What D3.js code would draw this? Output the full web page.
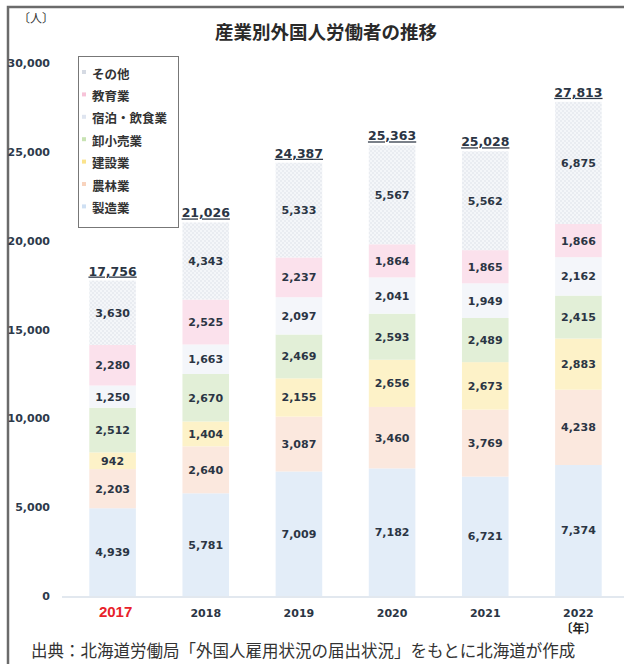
<!DOCTYPE html>
<html><head><meta charset="utf-8">
<script src="https://cdn.jsdelivr.net/npm/d3@7"></script>
<style>body{margin:0;background:#fff}svg{display:block}</style>
</head><body>
<script>
const years = ["2017","2018","2019","2020","2021","2022"];
const industries = ["製造業","農林業","建設業","卸小売業","宿泊・飲食業","教育業","その他"];
const seizo    = [4939,5781,7009,7182,6721,7374];
const norin    = [2203,2640,3087,3460,3769,4238];
const kensetsu = [942,1404,2155,2656,2673,2883];
const oroshi   = [2512,2670,2469,2593,2489,2415];
const shukuhaku= [1250,1663,2097,2041,1949,2162];
const kyoiku   = [2280,2525,2237,1864,1865,1866];
const sonota   = [3630,4343,5333,5567,5562,6875];
const totals   = [17756,21026,24387,25363,25028,27813];
const yTicks   = [0,5000,10000,15000,20000,25000,30000];
const colors   = ["#e3edf8","#fbe8de","#fdf2c8","#e2efd7","#f4f6fa","#fbe1ec","url(#chk)"];
const legendColors = ["#cfe0f3","#f8d3bd","#fbe38c","#c8e3b3","#dfe5f0","#f7c3d8","#d5dae3"];

const W=624,H=664;
const svg=d3.select("body").append("svg").attr("width",W).attr("height",H);
const defs=svg.append("defs");
const pat=defs.append("pattern").attr("id","chk").attr("width",4).attr("height",4).attr("patternUnits","userSpaceOnUse");
pat.append("rect").attr("width",4).attr("height",4).attr("fill","#f4f6f9");
pat.append("rect").attr("width",2).attr("height",2).attr("fill","#e9ecf1");
pat.append("rect").attr("x",2).attr("y",2).attr("width",2).attr("height",2).attr("fill","#e9ecf1");

const series=[seizo,norin,kensetsu,oroshi,shukuhaku,kyoiku,sonota];
const rows=years.map((y,i)=>{const o={year:y};industries.forEach((k,j)=>o[k]=series[j][i]);return o;});
const stacked=d3.stack().keys(industries)(rows);

const x=d3.scaleBand().domain(years).range([66,625]).paddingInner(0.5).paddingOuter(0.25);
const y=d3.scaleLinear().domain([0,30000]).range([596,63]);

// frame
svg.append("path").attr("d","M8,664 L8,7 L624,7").attr("fill","none").attr("stroke","#6b6b6b").attr("stroke-width",2.5);

// title
svg.append("text").attr("x",326).attr("y",39).attr("text-anchor","middle")
  .attr("font-family","Noto Sans CJK JP").attr("font-weight","bold").attr("font-size",18.5).attr("fill","#2a2a2a")
  .text("産業別外国人労働者の推移");
svg.append("text").attr("x",18).attr("y",23).attr("font-family","Noto Sans CJK JP").attr("font-size",12).attr("fill","#333").text("〔人〕");

// baseline
svg.append("line").attr("x1",62).attr("x2",624).attr("y1",y(0)+1).attr("y2",y(0)+1).attr("stroke","#e2e8ef").attr("stroke-width",2);

// y ticks
svg.append("g").selectAll("text").data(yTicks).join("text")
  .attr("x",50).attr("y",d=>y(d)+4).attr("text-anchor","end")
  .attr("font-family","DejaVu Sans").attr("font-weight","bold").attr("font-size",11).attr("fill","#2d3a4b")
  .text(d=>d3.format(",")(d));

// bars
const g=svg.append("g");
stacked.forEach((s,j)=>{
  g.append("g").selectAll("rect").data(s).join("rect")
    .attr("x",d=>x(d.data.year)).attr("width",x.bandwidth())
    .attr("y",d=>y(d[1])).attr("height",d=>y(d[0])-y(d[1]))
    .attr("fill",colors[j]);
  g.append("g").selectAll("text").data(s).join("text")
    .attr("x",d=>x(d.data.year)+x.bandwidth()/2).attr("y",d=>(y(d[0])+y(d[1]))/2+4)
    .attr("text-anchor","middle").attr("font-family","DejaVu Sans").attr("font-weight","bold").attr("font-size",11)
    .attr("fill","#2b3544").text(d=>d3.format(",")(d[1]-d[0]));
});

// totals
svg.append("g").selectAll("text").data(totals).join("text")
  .attr("x",(d,i)=>x(years[i])+x.bandwidth()/2).attr("y",d=>y(d)-5)
  .attr("text-anchor","middle").attr("font-family","DejaVu Sans").attr("font-weight","bold").attr("font-size",12.5)
  .attr("fill","#2b3544").attr("text-decoration","underline").text(d=>d3.format(",")(d));

// x labels
svg.append("g").selectAll("text").data(years).join("text")
  .attr("x",d=>x(d)+x.bandwidth()/2+(d==="2017"?3:0)).attr("y",617)
  .attr("text-anchor","middle")
  .attr("font-family",d=>d==="2017"?"Liberation Sans":"DejaVu Sans").attr("font-weight","bold")
  .attr("font-size",d=>d==="2017"?15:11).attr("fill",d=>d==="2017"?"#e8222a":"#2b3544").text(d=>d);
svg.append("text").attr("x",x("2022")+x.bandwidth()/2).attr("y",633).attr("text-anchor","middle")
  .attr("font-family","Noto Sans CJK JP").attr("font-weight","bold").attr("font-size",12).attr("fill","#222").text("〔年〕");

// legend
const lg=svg.append("g");
lg.append("rect").attr("x",78.5).attr("y",56.5).attr("width",100).attr("height",171).attr("fill","#fff").attr("stroke","#777").attr("stroke-width",1);
const legOrder=industries.map((d,i)=>i).reverse();
lg.selectAll("g.it").data(legOrder).join("g").attr("class","it")
  .attr("transform",(d,k)=>`translate(0,${74+k*22.4})`)
  .each(function(idx){
    const s=d3.select(this);
    s.append("rect").attr("x",82).attr("y",-4).attr("width",4).attr("height",4).attr("fill",legendColors[idx]);
    s.append("text").attr("x",92).attr("y",4.5).attr("font-family","Noto Sans CJK JP").attr("font-weight","bold")
      .attr("font-size",12.5).attr("fill","#333").text(industries[idx]);
  });

// footnote
svg.append("text").attr("x",31).attr("y",657).attr("font-family","Noto Sans CJK JP").attr("font-size",16.5).attr("fill","#333")
  .text("出典：北海道労働局「外国人雇用状況の届出状況」をもとに北海道が作成");
</script>
</body></html>
